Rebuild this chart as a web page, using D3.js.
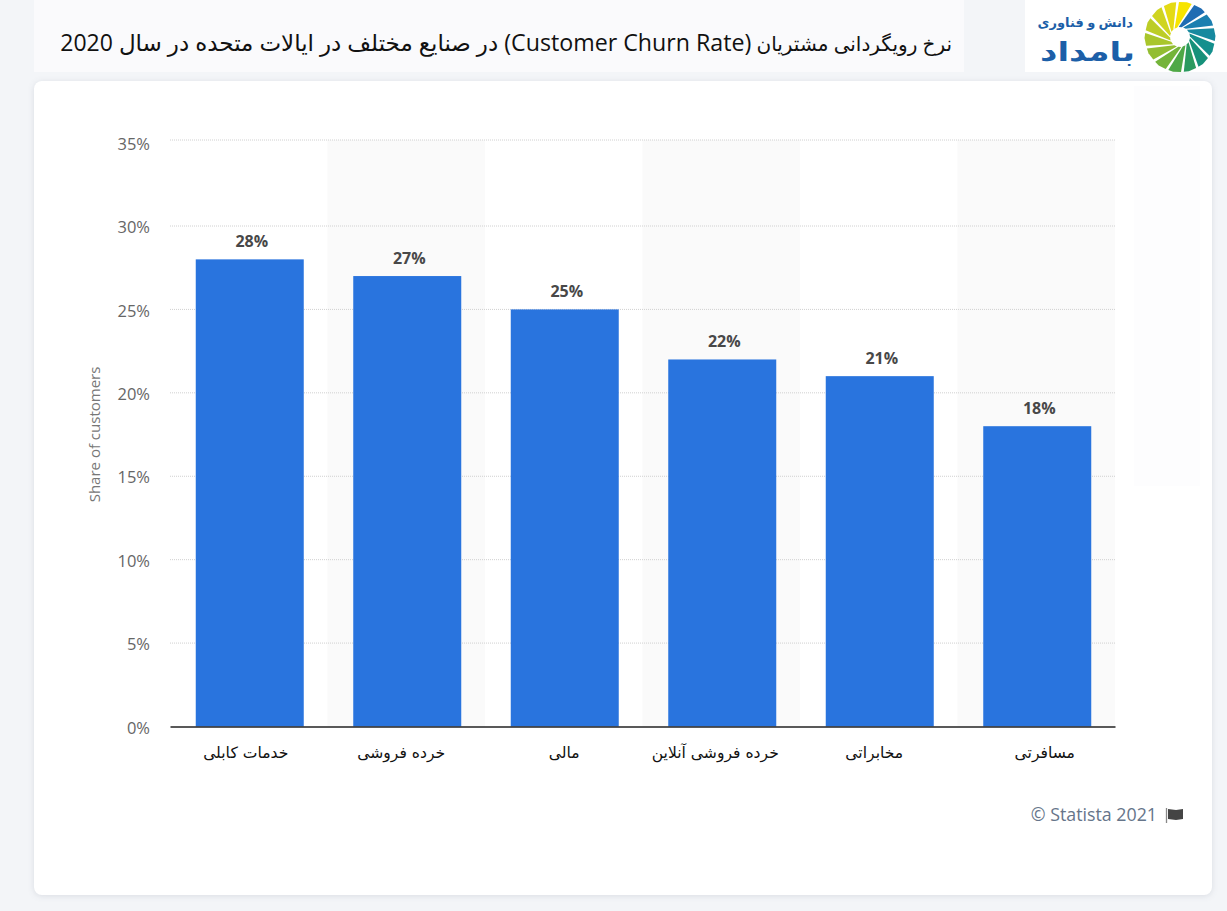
<!DOCTYPE html>
<html>
<head>
<meta charset="utf-8">
<script src="https://cdnjs.cloudflare.com/ajax/libs/d3/7.8.5/d3.min.js"></script>
<style>
  html, body { margin: 0; padding: 0; background: #f3f5f8; }
  svg { display: block; }
  text { font-family: "Open Sans", "DejaVu Sans", sans-serif; }
</style>
</head>
<body>
<div id="chart"></div>
<script>
const categories = ["خدمات کابلی", "خرده فروشی", "مالی", "خرده فروشی آنلاین", "مخابراتی", "مسافرتی"];
const churnValues = [28, 27, 25, 22, 21, 18];
const yTicks = [0, 5, 10, 15, 20, 25, 30, 35];
const logoWedges = ["#1f6cb3", "#1b7fb0", "#17899f", "#148f8d", "#16917a", "#2a9a5f", "#4fa846", "#74b43a", "#93bd32", "#a9c62c", "#bccd26", "#cfd420", "#e4da14", "#f7e400"];
const titleParts = ["نرخ رویگردانی مشتریان", "(Customer Churn Rate)", "در صنایع مختلف در ایالات متحده در سال 2020"];

const width = 1227, height = 911;
const titleSizes = [20, 23.2, 23];
const labelShift = [-3, -5, 0.5, -6, -4.5, 8.5];

const svg = d3.select("#chart").append("svg")
    .attr("width", width)
    .attr("height", height);

// title strip
svg.append("rect")
    .attr("x", 34).attr("y", 0)
    .attr("width", 930).attr("height", 72)
    .attr("fill", "#fafafc");

const title = svg.append("text")
    .attr("x", 952).attr("y", 51)
    .attr("direction", "rtl")
    .attr("text-anchor", "start")
    .attr("fill", "#111");

titleParts.forEach((part, i) => {
    title.append("tspan")
        .attr("font-size", titleSizes[i])
        .text(part + (i < titleParts.length - 1 ? " " : ""));
});

// logo box
svg.append("rect")
    .attr("x", 1025).attr("y", 0)
    .attr("width", 202).attr("height", 72)
    .attr("fill", "#fff");

// pinwheel: each wedge starts at the hole and opens towards the rim
const logo = svg.append("g").attr("transform", "translate(1180,37)");
const wedgeStep = 2 * Math.PI / logoWedges.length;
const wedgeLine = d3.lineRadial().angle(d => d[0]).radius(d => d[1]);
logoWedges.forEach((c, i) => {
    const start = 0.42 + i * wedgeStep;
    logo.append("path")
        .attr("d", wedgeLine([
            [start - 0.55, 10],
            [start, 35],
            [start + wedgeStep / 2, 35.5],
            [start + wedgeStep - 0.08, 35],
            [start - 0.25, 10]
        ]) + "Z")
        .attr("fill", c);
});

svg.append("text")
    .attr("x", 1133).attr("y", 27)
    .attr("direction", "rtl")
    .attr("font-size", 13)
    .attr("font-weight", "bold")
    .attr("fill", "#1c5fa8")
    .text("دانش و فناوری");

svg.append("text")
    .attr("x", 1135).attr("y", 61)
    .attr("direction", "rtl")
    .attr("font-size", 26)
    .attr("font-weight", "bold")
    .attr("fill", "#1c5fa8")
    .attr("textLength", 95)
    .attr("lengthAdjust", "spacingAndGlyphs")
    .text("بامداد");

// card
svg.append("rect")
    .attr("x", 34).attr("y", 81)
    .attr("width", 1178).attr("height", 814)
    .attr("rx", 8)
    .attr("fill", "#fff")
    .style("filter", "drop-shadow(0 1px 3px rgba(40,50,70,0.12))");

// faint patch on the right of the card
svg.append("rect")
    .attr("x", 1134).attr("y", 86)
    .attr("width", 66).attr("height", 400)
    .attr("fill", "#fdfdfe");

const x = d3.scaleBand()
    .domain(categories)
    .range([170, 1115]);

// the top interval is a little taller than the others in the picture
const y = d3.scaleLinear()
    .domain([0, 30, 35])
    .range([726.5, 226, 140]);

// tick labels sit just under their grid lines
const yLabels = d3.scaleLinear()
    .domain([0, 35])
    .range([728, 144]);

// alternate band shading
svg.selectAll(".stripe")
    .data(categories.filter((d, i) => i % 2 === 1))
    .enter().append("rect")
    .attr("class", "stripe")
    .attr("x", d => x(d))
    .attr("y", y(35))
    .attr("width", x.bandwidth())
    .attr("height", y(0) - y(35))
    .attr("fill", "#fafafa");

// grid lines
svg.selectAll(".grid")
    .data(yTicks.filter(d => d > 0))
    .enter().append("line")
    .attr("class", "grid")
    .attr("x1", x.range()[0])
    .attr("x2", x.range()[1])
    .attr("y1", d => y(d))
    .attr("y2", d => y(d))
    .attr("stroke", "#d0d0d0")
    .attr("stroke-dasharray", "1 1");

const yAxis = svg.append("g")
    .attr("transform", "translate(170,0)")
    .call(d3.axisLeft(yLabels).tickValues(yTicks).tickFormat(d => d + "%").tickSize(0).tickPadding(20));
yAxis.select(".domain").remove();
yAxis.selectAll("text")
    .attr("font-size", 16.5)
    .attr("fill", "#666")
    .style("font-family", '"Open Sans", sans-serif');

svg.append("text")
    .attr("transform", "translate(100,434.5) rotate(-90)")
    .attr("text-anchor", "middle")
    .attr("font-size", 15)
    .attr("fill", "#777")
    .text("Share of customers");

// bars
const barWidth = 108;
svg.selectAll(".bar")
    .data(categories)
    .enter().append("rect")
    .attr("class", "bar")
    .attr("x", d => x(d) + (x.bandwidth() - barWidth) / 2 + 1)
    .attr("y", (d, i) => y(churnValues[i]))
    .attr("width", barWidth)
    .attr("height", (d, i) => y(0) - y(churnValues[i]))
    .attr("fill", "#2974de");

svg.selectAll(".bar-label")
    .data(categories)
    .enter().append("text")
    .attr("class", "bar-label")
    .attr("x", d => x(d) + x.bandwidth() / 2 + 3)
    .attr("y", (d, i) => y(churnValues[i]) - 12)
    .attr("text-anchor", "middle")
    .attr("font-size", 16)
    .attr("font-weight", "bold")
    .attr("fill", "#484848")
    .text((d, i) => churnValues[i] + "%");

// x axis
const xAxis = svg.append("g")
    .attr("transform", `translate(0,${y(0)})`)
    .call(d3.axisBottom(x).tickSize(0).tickPadding(20));
xAxis.select(".domain").attr("stroke", "#222").attr("stroke-width", 1.3);
xAxis.selectAll("text")
    .attr("font-size", 15.6)
    .attr("fill", "#111")
    .attr("direction", "rtl")
    .attr("dx", (d, i) => labelShift[i])
    .style("font-family", '"DejaVu Sans", sans-serif');

// source
svg.append("text")
    .attr("x", 1157).attr("y", 821)
    .attr("text-anchor", "end")
    .attr("font-size", 17.8)
    .attr("fill", "#66758a")
    .text("© Statista 2021");

const flag = d3.path();
flag.moveTo(1168, 809); flag.lineTo(1176, 810); flag.lineTo(1183, 809);
flag.lineTo(1183, 819); flag.lineTo(1176, 820); flag.lineTo(1168, 819);
flag.closePath();
svg.append("path").attr("d", flag.toString()).attr("fill", "#444");
svg.append("line")
    .attr("x1", 1166.5).attr("x2", 1166.5)
    .attr("y1", 808).attr("y2", 823)
    .attr("stroke", "#888").attr("stroke-width", 1.3);
</script>
</body>
</html>
